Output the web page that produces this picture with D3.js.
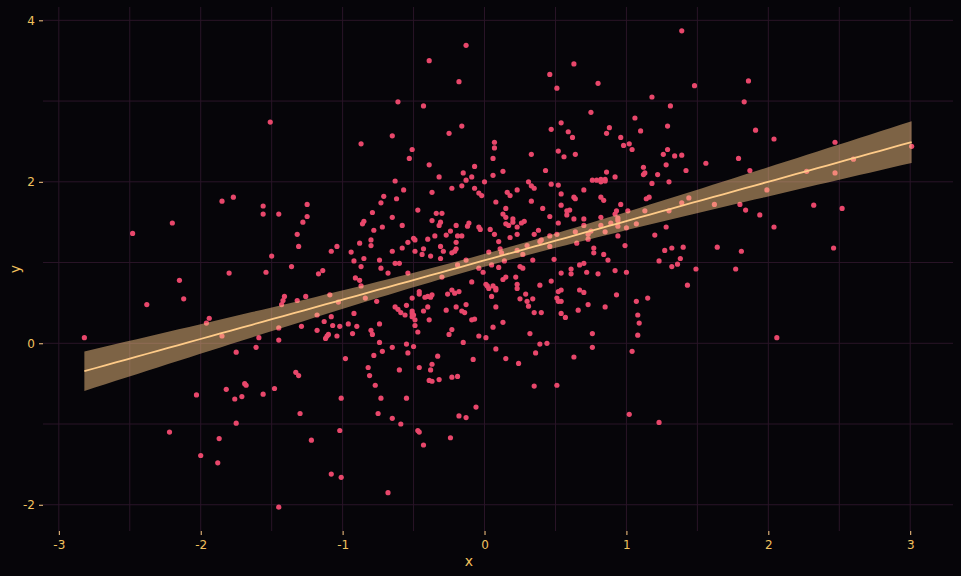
<!DOCTYPE html>
<html>
<head>
<meta charset="utf-8">
<script src="https://cdn.jsdelivr.net/npm/d3@7"></script>
<style>
  html, body { margin: 0; padding: 0; background: #060509; }
  svg { display: block; }
</style>
</head>
<body>
<svg id="chart"></svg>
<script>
// set svg params

var svgWidth = 961, svgHeight = 576;

// data (x, y)

var points = [
  [-1.51,2.74],
  [-0.13,3.69],[-0.39,3.50],[0.63,3.46],[0.46,3.33],[-0.18,3.24],[0.80,3.22],[0.51,3.16],[-0.61,2.99],
  [-0.43,2.94],[0.75,2.86],[1.06,2.79],[0.54,2.73],[-0.16,2.69],[0.47,2.65],[0.88,2.67],[0.59,2.62],
  [-0.25,2.60],[0.86,2.60],[1.10,2.63],[-0.65,2.57],[0.62,2.55],[0.96,2.55],[-0.87,2.47],[0.07,2.49],
  [0.98,2.45],[1.02,2.47],[1.04,2.40],[-0.51,2.40],[0.07,2.42],[0.52,2.38],[-0.53,2.29],[0.06,2.29],
  [0.33,2.34],[0.56,2.31],[0.64,2.34],[-0.39,2.21],[-0.07,2.19],[1.12,2.18],[0.43,2.14],[0.13,2.13],
  [-0.15,2.11],[0.06,2.08],[1.12,2.09],[1.13,2.11],[-0.32,2.06],[-0.09,2.06],[-0.13,2.02],[-0.63,2.01],
  [0.86,2.12],[0.92,2.06],[0.76,2.02],[0.79,2.02],[0.82,2.03],[0.85,2.03],[0.82,2.00],[0.85,2.01],
  [0.00,2.00],[0.31,2.00],
  [1.39,3.87],[1.86,3.25],[1.48,3.19],[1.18,3.05],[1.83,2.99],[1.31,2.94],[1.29,2.69],[1.91,2.64],
  [2.04,2.53],[2.47,2.49],[3.01,2.44],[1.29,2.40],[1.26,2.34],[1.34,2.32],[1.39,2.33],[1.79,2.29],
  [2.60,2.28],[1.56,2.23],[1.28,2.21],[1.42,2.14],[1.87,2.14],[2.27,2.13],[2.47,2.11],[1.22,2.09],
  [1.30,2.00],
  [-1.85,1.76],[-1.77,1.81],[-1.56,1.70],[-1.25,1.72],[-1.56,1.60],[-1.45,1.60],[-1.25,1.57],[-2.20,1.49],
  [-1.28,1.50],[-2.48,1.36],[-1.32,1.35],[-1.31,1.20],[-1.08,1.14],[-1.04,1.20],[-1.50,1.08],[-1.36,0.95],
  [-1.80,0.87],[-1.54,0.88],[-1.14,0.90],[-1.17,0.86],[-2.15,0.78],[-2.12,0.55],[-2.38,0.48],[-1.41,0.58],
  [-1.42,0.53],[-1.43,0.48],[-1.32,0.53],[-1.26,0.58],[-1.09,0.60],[-1.03,0.51],[-1.94,0.31],[-1.96,0.25],
  [-1.18,0.35],[-1.08,0.33],[-1.13,0.27],[-1.07,0.22],[-1.02,0.21],[-1.29,0.21],[-1.45,0.19],[-1.18,0.16],
  [-1.10,0.11],[-1.11,0.09],[-1.12,0.06],[-1.04,0.09],[-2.82,0.07],[-1.85,0.09],[-1.59,0.07],[-1.45,0.04],
  [-1.61,-0.05],[-1.75,-0.11],
  [-1.33,-0.36],[-1.31,-0.40],[-1.69,-0.50],[-1.68,-0.52],[-1.82,-0.57],[-1.48,-0.56],[-2.03,-0.64],[-1.71,-0.66],
  [-1.76,-0.69],[-1.56,-0.63],[-1.01,-0.68],[-1.30,-0.87],[-1.75,-0.99],[-2.22,-1.10],[-1.02,-1.08],[-1.87,-1.18],
  [-1.22,-1.20],[-2.00,-1.39],[-1.88,-1.48],[-1.08,-1.62],[-1.01,-1.66],[-1.45,-2.03],
  [-0.16,1.95],[-0.23,1.92],[-0.07,1.92],[-0.57,1.90],[-0.37,1.87],[-0.04,1.86],[-0.02,1.83],[-0.71,1.82],
  [-0.62,1.79],[-0.73,1.74],[-0.47,1.65],[-0.79,1.62],[-0.34,1.61],[-0.30,1.61],[-0.65,1.56],[-0.37,1.52],
  [-0.85,1.51],[-0.86,1.48],[-0.31,1.50],[-0.32,1.46],[-0.58,1.46],[-0.20,1.46],[-0.11,1.49],[-0.12,1.45],
  [-0.72,1.44],[-0.04,1.44],[-0.03,1.41],[0.04,1.41],[-0.78,1.40],[-0.24,1.39],[-0.35,1.33],[-0.27,1.34],
  [-0.19,1.33],[-0.16,1.33],[-0.50,1.30],[-0.49,1.28],[-0.40,1.29],[-0.80,1.28],[-0.80,1.21],[-0.54,1.25],
  [-0.20,1.25],[-0.88,1.24],[-0.31,1.20],[-0.58,1.18],[-0.43,1.17],[-0.20,1.17],[-0.21,1.14],[-0.23,1.12],
  [-0.94,1.13],[-0.65,1.14],[-0.49,1.14],[-0.29,1.14],[-0.44,1.10],[-0.38,1.08],[-0.85,1.05],[-0.31,1.05],
  [-0.74,1.03],[-0.92,1.02],[-0.63,0.99],[-0.60,0.99],[0.03,1.13],[-0.13,1.03],[0.05,0.97],[-0.87,0.95],
  [-0.73,0.93],[-0.19,0.97],[-0.04,0.93],[-0.01,0.88],[-0.68,0.87],[-0.54,0.87],[-0.30,0.82],[-0.91,0.81],
  [-0.88,0.78],[-0.09,0.76],[0.01,0.73],[0.02,0.71],[0.03,0.68],[-0.87,0.71],[-0.46,0.64],[-0.46,0.61],
  [-0.23,0.66],[-0.21,0.62],[-0.18,0.64],[-0.26,0.61],[-0.37,0.60],[-0.40,0.58],[-0.42,0.57],[-0.38,0.57],
  [-0.84,0.56],[-0.51,0.56],[0.05,0.58],[-0.76,0.52],[-0.63,0.45],[-0.61,0.42],[-0.55,0.47],[-0.40,0.45],
  [-0.20,0.45],[-0.13,0.48],[-0.59,0.38],[-0.51,0.40],[-0.51,0.37],[-0.50,0.35],[-0.43,0.40],[-0.27,0.41],
  [-0.16,0.40],[-0.14,0.38],[-0.92,0.37],[-0.56,0.35],[-0.51,0.33],[-0.49,0.29],[-0.39,0.29],[-0.09,0.29],
  [-0.07,0.30],[-0.49,0.22],[-0.74,0.24],[-0.96,0.24],[-0.90,0.21],[-0.80,0.16],[-0.79,0.11],[-0.23,0.17],
  [-0.93,0.12],[-0.47,0.14],[-0.25,0.11],[-0.04,0.09],[0.01,0.07],[-0.74,0.01],[-0.15,0.01],[-0.65,-0.05],
  [-0.55,-0.01],[-0.50,-0.04],[-0.72,-0.10],
  [0.33,1.95],[0.35,1.92],[0.47,1.97],[0.52,1.96],[0.16,1.87],[0.18,1.83],[0.23,1.90],[0.54,1.85],
  [0.70,1.90],[0.63,1.81],[0.64,1.79],[0.82,1.81],[0.84,1.77],[1.14,1.79],[0.08,1.75],[0.33,1.76],
  [0.54,1.71],[0.96,1.72],[0.15,1.67],[0.41,1.67],[0.58,1.64],[0.60,1.65],[0.58,1.59],[0.93,1.64],
  [0.92,1.60],[1.01,1.64],[1.13,1.64],[0.13,1.60],[0.15,1.56],[0.46,1.57],[0.63,1.54],[0.70,1.54],
  [0.82,1.56],[0.94,1.55],[0.94,1.52],[0.20,1.54],[0.20,1.50],[0.26,1.49],[0.28,1.51],[0.15,1.48],
  [0.17,1.46],[0.52,1.49],[0.70,1.46],[0.82,1.46],[0.89,1.49],[0.94,1.45],[1.07,1.48],[0.23,1.44],
  [0.38,1.40],[0.35,1.35],[0.07,1.35],[0.23,1.35],[0.64,1.38],[0.75,1.39],[0.85,1.38],[1.00,1.43],
  [0.46,1.33],[0.51,1.35],[0.73,1.35],[0.94,1.33],[0.18,1.31],[0.10,1.26],[0.39,1.26],[0.40,1.28],
  [0.65,1.24],[0.73,1.29],[0.30,1.21],[0.46,1.20],[0.99,1.21],[0.77,1.18],[0.23,1.15],[0.11,1.17],
  [0.77,1.12],[0.84,1.10],[0.27,1.10],[0.12,1.12],[0.34,1.03],[0.49,1.04],[0.14,1.02],[0.87,1.03],
  [0.70,0.99],[0.67,0.97],[0.25,0.95],[0.27,0.93],[0.10,0.94],[0.61,0.92],[0.61,0.86],[0.54,0.87],
  [0.72,0.88],[0.80,0.86],[0.92,0.90],[1.00,0.88],[0.15,0.82],[0.13,0.79],[0.22,0.82],[0.47,0.77],
  [0.23,0.73],[0.23,0.68],[0.39,0.72],[0.06,0.71],[0.08,0.68],[0.08,0.66],[0.52,0.64],[0.54,0.66],
  [0.51,0.56],[0.52,0.52],[0.54,0.52],[0.67,0.66],[0.70,0.63],[0.29,0.61],[0.34,0.55],[0.25,0.55],
  [0.30,0.52],[0.31,0.46],[0.93,0.60],[1.07,0.52],[0.73,0.48],[0.08,0.45],[0.85,0.45],[0.35,0.38],
  [0.40,0.38],[0.54,0.37],[0.66,0.41],[0.57,0.32],[1.08,0.35],[0.13,0.26],[0.06,0.20],[1.09,0.25],
  [0.32,0.12],[0.76,0.12],[1.08,0.10],[0.39,-0.01],[0.44,0.00],[0.08,-0.07],[0.76,-0.05],[1.04,-0.10],
  [1.18,1.98],[1.16,1.81],[1.30,1.64],[1.39,1.74],[1.44,1.80],[1.62,1.72],[1.80,1.72],[1.84,1.65],
  [1.94,1.59],[1.99,1.90],[2.32,1.71],[2.52,1.67],[2.04,1.44],[1.28,1.44],[1.20,1.34],[1.27,1.15],
  [1.32,1.18],[1.40,1.19],[1.64,1.19],[1.81,1.14],[2.46,1.18],[1.38,1.05],[1.23,1.02],[1.32,0.95],
  [1.36,0.98],[1.49,0.92],[1.77,0.92],[1.43,0.72],[1.15,0.56],[2.06,0.07],
  [-0.98,-0.19],[-0.78,-0.15],[-0.54,-0.12],[-0.33,-0.16],[-0.82,-0.30],[-0.81,-0.40],[-0.60,-0.33],[-0.46,-0.30],
  [-0.37,-0.26],[-0.38,-0.33],[-0.08,-0.20],[-0.39,-0.46],[-0.37,-0.47],[-0.32,-0.45],[-0.23,-0.42],[-0.19,-0.41],
  [-0.77,-0.52],[-0.73,-0.68],[-0.55,-0.68],[-0.06,-0.79],[-0.75,-0.87],[-0.65,-0.93],[-0.18,-0.90],[-0.13,-0.92],
  [-0.59,-1.00],[-0.47,-1.08],[-0.46,-1.10],[-0.24,-1.17],[-0.43,-1.26],[-0.68,-1.85],
  [0.15,-0.19],[0.24,-0.25],[0.36,-0.12],[0.35,-0.53],[0.51,-0.52],[0.63,-0.17],[1.02,-0.88],
  [1.23,-0.98]
];

// axis params

var xTicks = [-3, -2, -1, 0, 1, 2, 3];
var xMinor = [-2.5, -1.5, -0.5, 0.5, 1.5, 2.5];
var yTicks = [-2, 0, 2, 4];
var yMinor = [-1, 1, 3];
var xTitle = "x", yTitle = "y";

// colours

var bg = "#060509";
var gridColor = "#2a1528";
var textColor = "#f2c25e";
var pointColor = "#e8476b";
var lineColor = "#ffcb88";

// panel edges

var panelLeft = 43, panelRight = 953, panelTop = 7, panelBottom = 531;

// scales: data range + 5% like ggplot

var xExt = d3.extent(points, function (d) { return d[0]; });
var yExt = d3.extent(points, function (d) { return d[1]; });
var xPad = (xExt[1] - xExt[0]) * 0.05, yPad = (yExt[1] - yExt[0]) * 0.05;

var xScale = d3.scaleLinear()
  .domain([xExt[0] - xPad, xExt[1] + xPad])
  .range([panelLeft, panelRight]);

var yScale = d3.scaleLinear()
  .domain([yExt[0] - yPad, yExt[1] + yPad])
  .range([panelBottom, panelTop]);

var svg = d3.select("#chart")
  .attr("width", svgWidth)
  .attr("height", svgHeight)
  .style("font-family", "'DejaVu Sans', sans-serif");

svg.append("rect")
  .attr("width", svgWidth)
  .attr("height", svgHeight)
  .attr("fill", bg);

// grid

var grid = svg.append("g");

grid.selectAll("line.v")
  .data(xMinor.concat(xTicks))
  .enter()
  .append("line")
  .attr("x1", function (d) { return xScale(d); })
  .attr("x2", function (d) { return xScale(d); })
  .attr("y1", panelTop)
  .attr("y2", panelBottom)
  .attr("stroke", gridColor)
  .attr("stroke-width", 1);

grid.selectAll("line.h")
  .data(yMinor.concat(yTicks))
  .enter()
  .append("line")
  .attr("x1", panelLeft)
  .attr("x2", panelRight)
  .attr("y1", function (d) { return yScale(d); })
  .attr("y2", function (d) { return yScale(d); })
  .attr("stroke", gridColor)
  .attr("stroke-width", 1);

// points

svg.append("g")
  .selectAll("circle")
  .data(points)
  .enter()
  .append("circle")
  .attr("cx", function (d) { return xScale(d[0]); })
  .attr("cy", function (d) { return yScale(d[1]); })
  .attr("r", 2.6)
  .attr("fill", pointColor);

// linear fit with 95% band (like geom_smooth(method = "lm"))

var n = points.length;
var xbar = d3.mean(points, function (d) { return d[0]; });
var ybar = d3.mean(points, function (d) { return d[1]; });
var sxx = d3.sum(points, function (d) { return (d[0] - xbar) * (d[0] - xbar); });
var sxy = d3.sum(points, function (d) { return (d[0] - xbar) * (d[1] - ybar); });
var slope = sxy / sxx;
var icept = ybar - slope * xbar;
var sse = d3.sum(points, function (d) { var r = d[1] - icept - slope * d[0]; return r * r; });
var sdRes = Math.sqrt(sse / (n - 2));
var tq = 1.965;

var fit = d3.range(80).map(function (i) {
  var x = xExt[0] + (xExt[1] - xExt[0]) * i / 79;
  var y = icept + slope * x;
  var se = sdRes * Math.sqrt(1 / n + (x - xbar) * (x - xbar) / sxx);
  return { x: x, y: y, lo: y - tq * se, hi: y + tq * se };
});

svg.append("path")
  .datum(fit)
  .attr("d", d3.area()
    .x(function (d) { return xScale(d.x); })
    .y0(function (d) { return yScale(d.lo); })
    .y1(function (d) { return yScale(d.hi); }))
  .attr("fill", lineColor)
  .attr("fill-opacity", 0.48);

svg.append("path")
  .datum(fit)
  .attr("d", d3.line()
    .x(function (d) { return xScale(d.x); })
    .y(function (d) { return yScale(d.y); }))
  .attr("fill", "none")
  .attr("stroke", lineColor)
  .attr("stroke-width", 1.8);

// axes

var xAxis = svg.append("g")
  .attr("transform", "translate(0," + panelBottom + ")")
  .call(d3.axisBottom(xScale).tickValues(xTicks).tickSize(4).tickPadding(5)
    .tickFormat(function (d) { return String(d); }));

var yAxis = svg.append("g")
  .attr("transform", "translate(" + panelLeft + ",0)")
  .call(d3.axisLeft(yScale).tickValues(yTicks).tickSize(4).tickPadding(4)
    .tickFormat(function (d) { return String(d); }));

[xAxis, yAxis].forEach(function (ax) {
  ax.select(".domain").remove();
  ax.selectAll(".tick line").attr("stroke", lineColor);
  ax.selectAll(".tick text")
    .attr("fill", textColor)
    .style("font-size", "12px")
    .style("font-family", "'DejaVu Sans', sans-serif");
});

// axis titles

svg.append("text")
  .attr("x", 469)
  .attr("y", 566)
  .attr("text-anchor", "middle")
  .attr("fill", textColor)
  .style("font-size", "14px")
  .text(xTitle);

svg.append("text")
  .attr("transform", "translate(20," + ((panelTop + panelBottom) / 2) + ") rotate(-90)")
  .attr("text-anchor", "middle")
  .attr("fill", textColor)
  .style("font-size", "14px")
  .text(yTitle);
</script>
</body>
</html>
